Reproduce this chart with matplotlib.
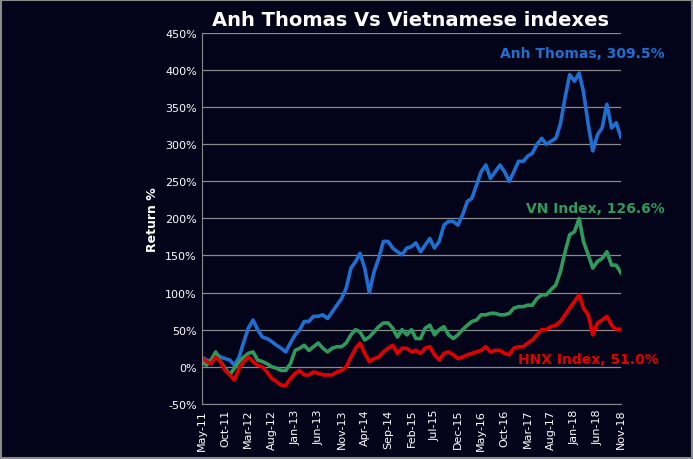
import matplotlib.pyplot as plt
import pandas as pd

months = pd.date_range('2011-05-01', '2018-11-01', freq='MS')

anh_thomas = [13, 9, 7, 18, 13, 11, 9, 2, 13, 34, 52, 63, 50, 40, 38, 34, 29, 25, 20, 32,
              43, 50, 61, 61, 68, 68, 70, 65, 74, 83, 92, 106, 133, 142, 153, 133, 100, 128, 146, 169,
              169, 160, 155, 151, 160, 162, 167, 155, 164, 173, 160, 169, 191, 196, 196, 191, 205, 223, 227, 245,
              263, 272, 254, 263, 272, 263, 250, 263, 277, 277, 284, 288, 300, 308, 300, 304, 308, 327, 363, 394,
              385, 396, 371, 327, 291, 313, 322, 354, 322, 329, 309.5]
vn_index = [7, 2, 9, 20, 7, -2, -11, -2, 7, 13, 18, 20, 9, 7, 4, 0, -2, -5, -5, 4,
            22, 25, 29, 22, 27, 32, 25, 20, 25, 27, 27, 32, 43, 50, 47, 36, 40, 47, 54, 59,
            59, 52, 40, 50, 43, 50, 38, 38, 52, 56, 43, 50, 54, 43, 38, 43, 50, 56, 61, 63,
            70, 70, 72, 72, 70, 70, 72, 79, 81, 81, 83, 83, 92, 97, 97, 104, 110, 128, 155, 178,
            182, 200, 169, 151, 133, 142, 146, 155, 137, 137, 126.6]
hnx_index = [13, 7, 4, 13, 7, -5, -11, -18, -2, 7, 13, 7, 2, 0, -7, -16, -20, -25, -25, -16,
             -9, -5, -11, -11, -7, -9, -11, -11, -11, -7, -5, 0, 13, 25, 32, 18, 7, 11, 13, 20,
             25, 29, 18, 25, 25, 20, 22, 18, 25, 27, 16, 9, 18, 20, 16, 11, 13, 16, 18, 20,
             22, 27, 20, 22, 22, 18, 16, 25, 27, 27, 32, 36, 43, 50, 50, 54, 56, 61, 70, 79,
             88, 97, 79, 70, 43, 59, 63, 68, 56, 50, 51.0]

bg = '#03031a'
fig = plt.figure(figsize=(6.93, 4.60), dpi=100, facecolor=bg)
ax = fig.add_axes([0.291, 0.12, 0.605, 0.806], facecolor=bg)

ax.plot(months, anh_thomas, color='#1f6fd1', lw=2.6)
ax.plot(months, vn_index, color='#2e9a5c', lw=2.6)
ax.plot(months, hnx_index, color='#e00000', lw=2.6)

ax.set_ylim(-50, 450)
ax.set_yticks(range(-50, 451, 50))
ax.set_yticklabels([f'{v}%' for v in range(-50, 451, 50)])
ax.set_xlim(months[0], months[-1])
ticks = months[::5]
ax.set_xticks(ticks)
ax.set_xticklabels([d.strftime('%b-%y') for d in ticks], rotation=90)
ax.tick_params(colors='white', labelsize=8, length=0)
ax.grid(axis='y', color='#8a8a8a', lw=0.9)
ax.set_axisbelow(True)
for s in ['top', 'right']:
    ax.spines[s].set_visible(False)
ax.spines['left'].set_color('#8a8a8a')
ax.spines['bottom'].set_color('#8a8a8a')

ax.set_ylabel('Return %', color='white', fontweight='bold', fontsize=9)
fig.text(0.592, 0.955, 'Anh Thomas Vs Vietnamese indexes', color='white', fontweight='bold',
         fontsize=14, ha='center', va='center')

ax.text(1.105, 423, 'Anh Thomas, 309.5%', color='#1f6fd1', fontweight='bold', fontsize=10,
        ha='right', va='center', transform=ax.get_yaxis_transform(), clip_on=False)
ax.text(1.105, 214, 'VN Index, 126.6%', color='#2e9a5c', fontweight='bold', fontsize=10,
        ha='right', va='center', transform=ax.get_yaxis_transform(), clip_on=False)
ax.text(1.09, 11, 'HNX Index, 51.0%', color='#e00000', fontweight='bold', fontsize=10,
        ha='right', va='center', transform=ax.get_yaxis_transform(), clip_on=False)

fig.patches.append(plt.Rectangle((0.002, 0.002), 0.996, 0.996, transform=fig.transFigure,
                                 fill=False, edgecolor='#8a8a8a', lw=1.5))

fig.savefig('out.png', facecolor=bg)
